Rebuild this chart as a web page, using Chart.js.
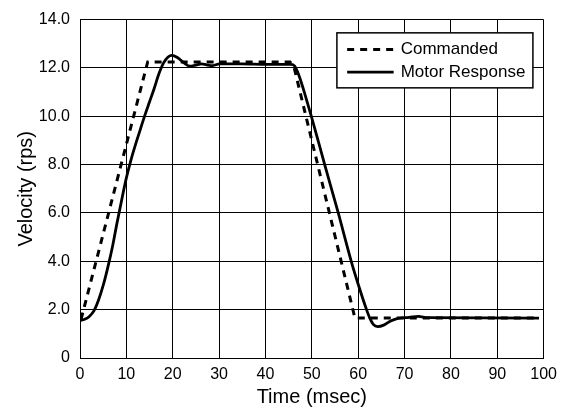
<!DOCTYPE html>
<html>
<head>
<meta charset="utf-8">
<script src="https://cdn.jsdelivr.net/npm/chart.js@4/dist/chart.umd.min.js"></script>
<style>
html,body{margin:0;padding:0;background:#fff;}
canvas{display:block;}
</style>
</head>
<body>
<canvas id="c" width="564" height="409"></canvas>
<script>
// ---- data ----
const seriesNames = ["Commanded", "Motor Response"];
const commandedTime = [0, 0.3, 14.6, 45.3, 46.2, 59.3, 99];
const commandedVel  = [1.65, 1.65, 12.25, 12.25, 12.0, 1.65, 1.65];
const motorTime = [0, 1, 2, 3, 4, 5, 6, 7, 8, 9, 10, 11, 12, 13, 14, 15, 16, 17, 18, 19, 19.8, 21, 22.5, 23.7, 25, 26.2, 27.3, 28.4, 30.2, 35, 40, 45.5, 46.3, 47, 47.7, 48.5, 49.9, 52.7, 55.7, 58.5, 60, 61.8, 62.5, 63.3, 64.2, 65.5, 67, 68.4, 71, 73, 75, 99];
const motorVel  = [1.55, 1.6, 1.72, 1.95, 2.4, 3.0, 3.75, 4.6, 5.6, 6.55, 7.45, 8.2, 8.85, 9.45, 10.05, 10.6, 11.15, 11.75, 12.2, 12.45, 12.52, 12.43, 12.2, 12.07, 12.12, 12.17, 12.13, 12.09, 12.17, 12.17, 12.15, 12.15, 12.08, 11.8, 11.42, 10.92, 10.0, 8.05, 6.0, 4.0, 3.05, 2.0, 1.65, 1.38, 1.3, 1.36, 1.53, 1.63, 1.68, 1.72, 1.67, 1.65];
const xTicks = [0, 10, 20, 30, 40, 50, 60, 70, 80, 90, 100];
const yTickLabels = ["0", "2.0", "4.0", "6.0", "8.0", "10.0", "12.0", "14.0"];
const xTitle = "Time (msec)";
const yTitle = "Velocity (rps)";

const FONT = "'Liberation Sans', Arial, Helvetica, sans-serif";

const toPts = (xs, ys) => xs.map((x, i) => ({x: x, y: ys[i]}));

const legendPlugin = {
  id: 'boxLegend',
  afterDatasetsDraw(chart) {
    const ctx = chart.ctx;
    const a = chart.chartArea;
    const w = 196, h = 55;
    const left = a.right - 11 - w, top = a.top + 13;
    ctx.save();
    ctx.fillStyle = '#fff';
    ctx.fillRect(left, top, w, h);
    ctx.strokeStyle = '#000';
    ctx.lineWidth = 1.5;
    ctx.strokeRect(left + 0.25, top + 0.25, w, h);
    const rows = [top + 17, top + 39.5];
    chart.data.datasets.forEach((ds, i) => {
      ctx.beginPath();
      ctx.setLineDash(ds.borderDash || []);
      ctx.lineWidth = ds.borderWidth;
      ctx.strokeStyle = ds.borderColor;
      ctx.moveTo(left + 10.5, rows[i]);
      ctx.lineTo(left + 57, rows[i]);
      ctx.stroke();
      ctx.setLineDash([]);
      ctx.fillStyle = '#000';
      ctx.font = "17px " + FONT;
      ctx.textBaseline = 'middle';
      ctx.textAlign = 'left';
      ctx.fillText(ds.label, left + 64, rows[i]);
    });
    ctx.restore();
  }
};

new Chart(document.getElementById('c'), {
  type: 'line',
  data: {
    datasets: [
      {
        label: seriesNames[0],
        data: toPts(commandedTime, commandedVel),
        borderColor: '#000',
        borderWidth: 3,
        borderDash: [7, 6],
        pointRadius: 0,
        tension: 0,
        fill: false
      },
      {
        label: seriesNames[1],
        data: toPts(motorTime, motorVel),
        borderColor: '#000',
        borderWidth: 2.8,
        pointRadius: 0,
        cubicInterpolationMode: 'monotone',
        fill: false
      }
    ]
  },
  options: {
    responsive: false,
    animation: false,
    devicePixelRatio: 1,
    layout: { padding: { top: 16, right: 20, bottom: 0, left: 0 } },
    plugins: { legend: { display: false }, tooltip: { enabled: false } },
    scales: {
      x: {
        type: 'linear',
        min: 0, max: 100,
        afterBuildTicks(scale) { scale.ticks = xTicks.map(v => ({value: v})); },
        afterFit(scale) { scale.height = 51; },
        grid: { color: '#000', lineWidth: 1, drawTicks: false },
        border: { display: true, color: '#000', width: 1 },
        ticks: { color: '#000', padding: 7, font: { family: FONT, size: 16 }, maxRotation: 0 },
        title: { display: true, text: xTitle, color: '#000', font: { family: FONT, size: 20 }, padding: { top: 0, bottom: 0 } }
      },
      y: {
        type: 'linear',
        min: 0, max: 14,
        afterBuildTicks(scale) { scale.ticks = yTickLabels.map((t, i) => ({value: i * 2})); },
        afterFit(scale) { scale.width = 80; },
        grid: { color: '#000', lineWidth: 1, drawTicks: false },
        border: { display: true, color: '#000', width: 1 },
        ticks: {
          color: '#000', padding: 10, font: { family: FONT, size: 16 },
          callback: (v, i) => yTickLabels[i]
        },
        title: { display: true, text: yTitle, color: '#000', font: { family: FONT, size: 20 }, padding: { top: 14.5, bottom: 0 } }
      }
    }
  },
  plugins: [legendPlugin]
});
</script>
</body>
</html>
